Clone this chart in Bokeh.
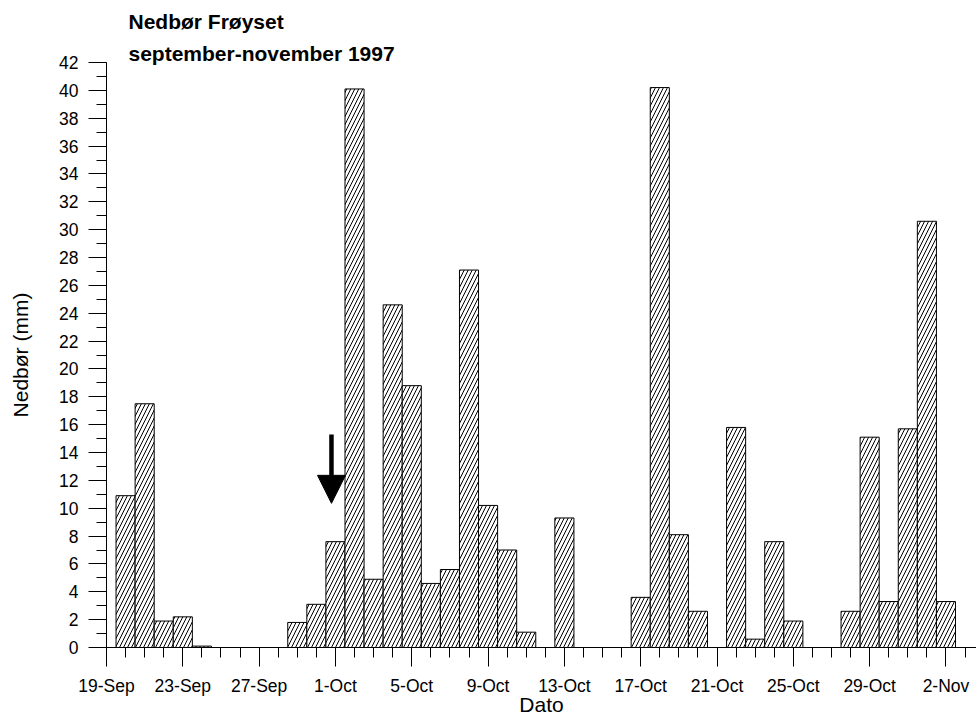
import pandas as pd
from bokeh.plotting import figure
from bokeh.models import (ColumnDataSource, FixedTicker, Title, Arrow, NormalHead)
from bokeh.embed import file_html
from bokeh.resources import INLINE

# ---- data ----
axis_start = "1997-09-19"
axis_end_days = 45.6
bar_dates = ["1997-09-20", "1997-09-21", "1997-09-22", "1997-09-23", "1997-09-24",
             "1997-09-25", "1997-09-26", "1997-09-27", "1997-09-28", "1997-09-29",
             "1997-09-30", "1997-10-01", "1997-10-02", "1997-10-03", "1997-10-04",
             "1997-10-05", "1997-10-06", "1997-10-07", "1997-10-08", "1997-10-09",
             "1997-10-10", "1997-10-11", "1997-10-12", "1997-10-13", "1997-10-14",
             "1997-10-15", "1997-10-16", "1997-10-17", "1997-10-18", "1997-10-19",
             "1997-10-20", "1997-10-21", "1997-10-22", "1997-10-23", "1997-10-24",
             "1997-10-25", "1997-10-26", "1997-10-27", "1997-10-28", "1997-10-29",
             "1997-10-30", "1997-10-31", "1997-11-01", "1997-11-02"]
precip_mm = [10.9, 17.5, 1.9, 2.2, 0.1,
             0.0, 0.0, 0.0, 0.0, 1.8,
             3.1, 7.6, 40.1, 4.9, 24.6,
             18.8, 4.6, 5.6, 27.1, 10.2,
             7.0, 1.1, 0.0, 9.3, 0.0,
             0.0, 0.0, 3.6, 40.2, 8.1,
             2.6, 0.0, 15.8, 0.6, 7.6,
             1.9, 0.0, 0.0, 2.6, 15.1,
             3.3, 15.7, 30.6, 3.3]
tick_dates = ["1997-09-19", "1997-09-23", "1997-09-27", "1997-10-01", "1997-10-05",
              "1997-10-09", "1997-10-13", "1997-10-17", "1997-10-21", "1997-10-25",
              "1997-10-29", "1997-11-02"]
tick_labels = ["19-Sep", "23-Sep", "27-Sep", "1-Oct", "5-Oct", "9-Oct", "13-Oct",
               "17-Oct", "21-Oct", "25-Oct", "29-Oct", "2-Nov"]
y_ticks = list(range(0, 43, 2))
y_minor = list(range(0, 43, 1))
arrow_time = "1997-09-30 19:00"
arrow_top = 15.3
arrow_tip = 10.35

title1 = "Nedbør Frøyset"
title2 = "september-november 1997"

# ---- helpers ----
t0 = pd.Timestamp(axis_start)
def day(d):
    return (pd.Timestamp(d) - t0) / pd.Timedelta(days=1)

x_days = [day(d) for d in bar_dates]
tick_pos = [day(d) for d in tick_dates]
minor_pos = list(range(0, int(axis_end_days) + 1))

FONT = "Liberation Sans"

p = figure(width=976, height=718, x_range=(0, axis_end_days), y_range=(0, 42),
           output_backend="svg", toolbar_location=None,
           min_border_left=106, min_border_top=62, min_border_right=0,
           min_border_bottom=71)
p.title.visible = False
p.outline_line_color = None
p.grid.visible = False
p.background_fill_color = "white"
p.border_fill_color = "white"

src = ColumnDataSource(dict(x=x_days, top=precip_mm))
p.vbar(x="x", top="top", width=1.0, bottom=0, source=src,
       fill_color="white", line_color="black", line_width=1,
       hatch_pattern="/", hatch_color="black", hatch_scale=8, hatch_weight=1)

# x axis
xa = p.xaxis[0]
xa.ticker = FixedTicker(ticks=tick_pos, minor_ticks=minor_pos)
xa.major_label_overrides = {tp: lab for tp, lab in zip(tick_pos, tick_labels)}
xa.major_tick_out = 19
xa.major_tick_in = 0
xa.minor_tick_out = 10
xa.minor_tick_in = 0
xa.major_label_standoff = 9
xa.major_label_text_font = FONT
xa.major_label_text_font_size = "17.5px"
xa.major_label_text_color = "black"
xa.axis_label = "Dato"
xa.axis_label_text_font = FONT
xa.axis_label_text_font_size = "21px"
xa.axis_label_text_font_style = "normal"
xa.axis_label_text_color = "black"
xa.axis_label_standoff = -6
xa.axis_line_color = "black"
xa.major_tick_line_color = "black"
xa.minor_tick_line_color = "black"

# y axis
ya = p.yaxis[0]
ya.ticker = FixedTicker(ticks=y_ticks, minor_ticks=y_minor)
ya.major_tick_out = 18
ya.major_tick_in = 0
ya.minor_tick_out = 10
ya.minor_tick_in = 0
ya.major_label_standoff = 10
ya.major_label_text_font = FONT
ya.major_label_text_font_size = "17.5px"
ya.major_label_text_color = "black"
ya.axis_label = "Nedbør (mm)"
ya.axis_label_text_font = FONT
ya.axis_label_text_font_size = "21px"
ya.axis_label_text_font_style = "normal"
ya.axis_label_text_color = "black"
ya.axis_label_standoff = 24
ya.axis_line_color = "black"
ya.major_tick_line_color = "black"
ya.minor_tick_line_color = "black"

# arrow
ax = day(arrow_time)
p.add_layout(Arrow(x_start=ax, y_start=arrow_top, x_end=ax, y_end=arrow_tip,
                   line_width=4.5, line_color="black",
                   end=NormalHead(size=28, fill_color="black", line_color="black",
                                  line_width=1)))

# titles (first added is closest to the frame)
p.add_layout(Title(text=title2, align="left", offset=22, standoff=-5,
                   text_font=FONT, text_font_size="21px", text_font_style="bold",
                   text_color="black"), "above")
p.add_layout(Title(text=title1, align="left", offset=22, standoff=15,
                   vertical_align="top",
                   text_font=FONT, text_font_size="21px", text_font_style="bold",
                   text_color="black"), "above")

open("out.html", "w").write(file_html(p, INLINE))
